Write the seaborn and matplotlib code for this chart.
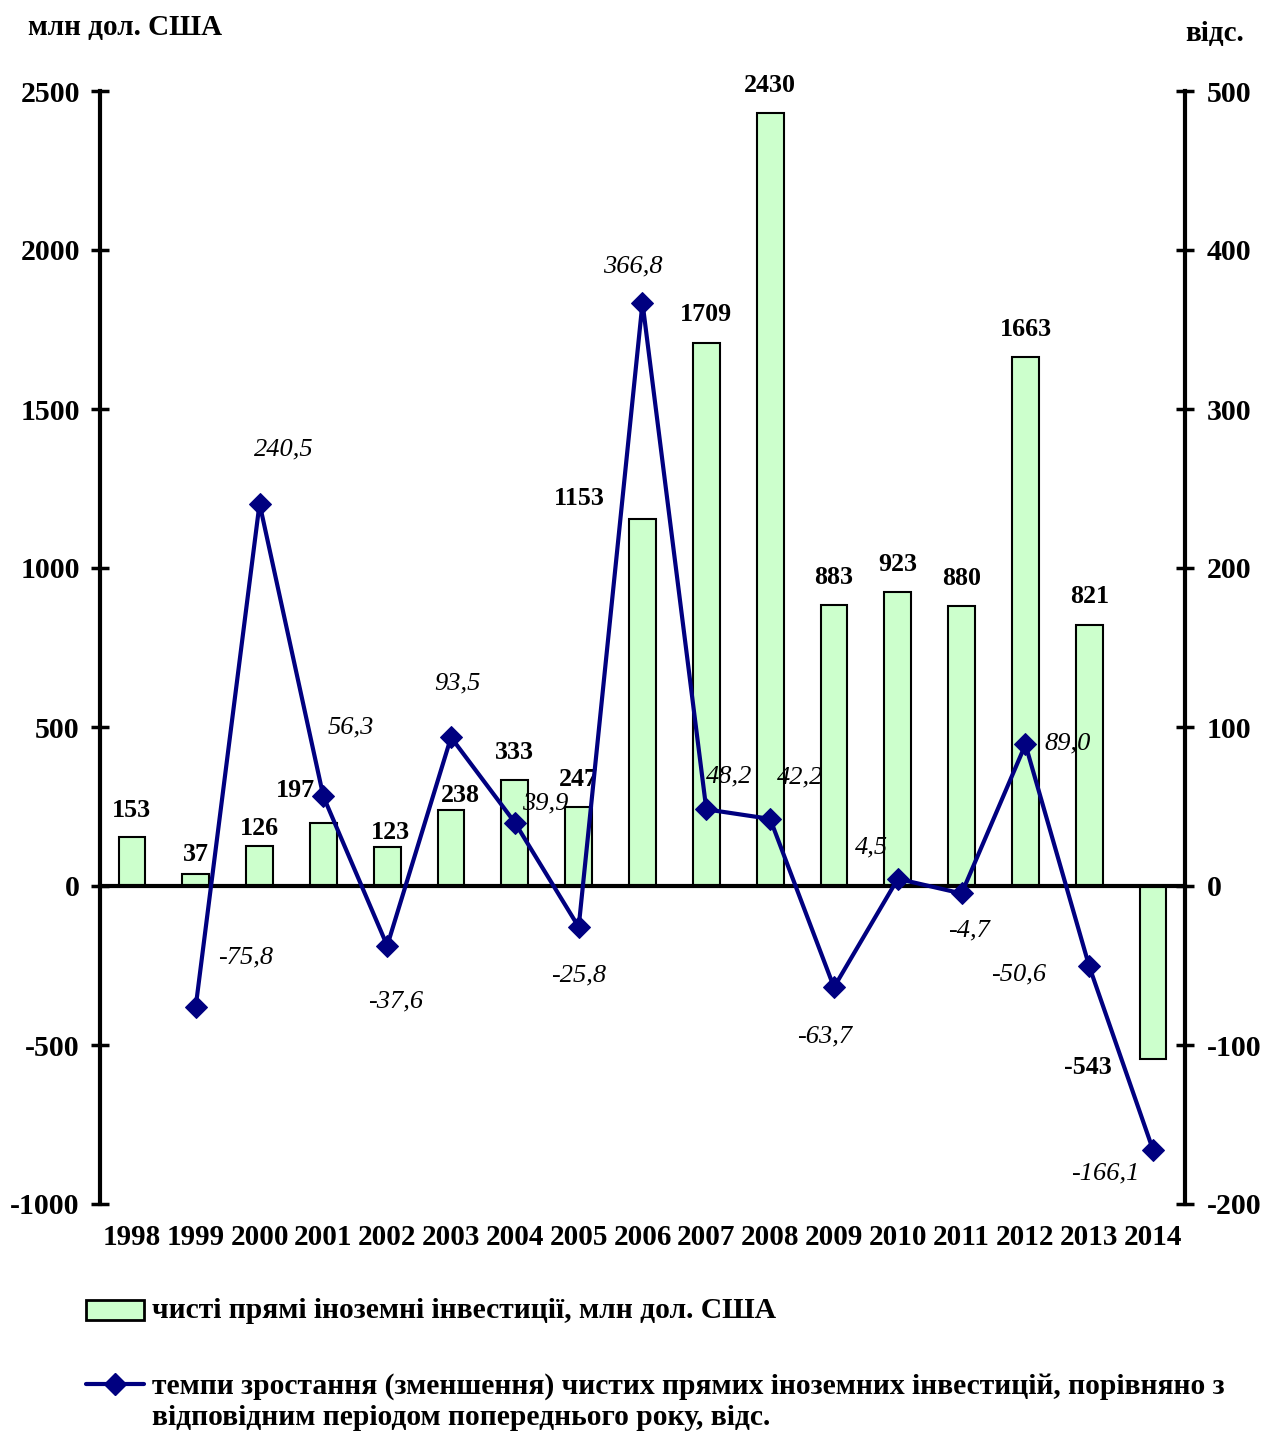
import numpy as np
import pandas as pd
import matplotlib
matplotlib.use("Agg")
import matplotlib.pyplot as plt
from matplotlib.patches import Rectangle
from matplotlib.lines import Line2D
import seaborn as sns

# ---------------- data ----------------
years = ["1998", "1999", "2000", "2001", "2002", "2003", "2004", "2005", "2006",
         "2007", "2008", "2009", "2010", "2011", "2012", "2013", "2014"]
fdi = [153, 37, 126, 197, 123, 238, 333, 247, 1153, 1709, 2430, 883, 923, 880, 1663, 821, -543]
growth_years = ["1999", "2000", "2001", "2002", "2003", "2004", "2005", "2006",
                "2007", "2008", "2009", "2010", "2011", "2012", "2013", "2014"]
growth = [-75.8, 240.5, 56.3, -37.6, 93.5, 39.9, -25.8, 366.8, 48.2, 42.2, -63.7, 4.5, -4.7, 89.0, -50.6, -166.1]
left_ticks = [-1000, -500, 0, 500, 1000, 1500, 2000, 2500]
right_ticks = [-200, -100, 0, 100, 200, 300, 400, 500]

bar_label = "чисті прямі іноземні інвестиції, млн дол. США"
line_label = "темпи зростання (зменшення) чистих прямих іноземних інвестицій, порівняно з\nвідповідним періодом попереднього року, відс."

# label offsets in pixels (styling only)
bar_off = {"1998": (0, 27), "1999": (0, 20), "2000": (0, 17), "2001": (-28, 33), "2002": (3, 14),
           "2003": (9, 15), "2006": (-63, 21), "2014": (-65, -9)}
line_off = [(50, 49), (24, 54), (27, 69), (8, -56), (6, 54), (30, 19), (0, -48), (-10, 36),
            (23, 33), (30, 41), (-9, -49), (-26, 31), (7, -37), (42, 1), (-71, -8), (-48, -23)]

BAR_FILL = "#CCFFCC"
NAVY = "#000080"

sns.set_style("white")
plt.rcParams["font.family"] = ["Liberation Serif", "DejaVu Serif"]
plt.rcParams["font.weight"] = "bold"
plt.rcParams["text.color"] = "black"
plt.rcParams["xtick.color"] = "black"
plt.rcParams["ytick.color"] = "black"
plt.rcParams["axes.labelcolor"] = "black"

W, H = 1263, 1432
fig = plt.figure(figsize=(W / 100, H / 100), dpi=100)
L, R, T, B = 100, 1185, 91, 1204
ax = fig.add_axes([L / W, 1 - B / H, (R - L) / W, (B - T) / H])

df = pd.DataFrame({"year": years, "fdi": fdi})
sns.barplot(data=df, x="year", y="fdi", order=years, color=BAR_FILL, saturation=1,
            width=0.42, edgecolor="black", linewidth=1.5, ax=ax, zorder=2)

ax2 = ax.twinx()
gdf = pd.DataFrame({"pos": [years.index(y) for y in growth_years], "growth": growth})
sns.lineplot(data=gdf, x="pos", y="growth", color=NAVY, linewidth=3, marker="D",
             markersize=11, markeredgecolor=NAVY, ax=ax2, zorder=5)

ax.set_xlim(-0.5, len(years) - 0.5)
ax.set_ylim(-1000, 2500)
ax2.set_ylim(-200, 500)
ax.set_yticks(left_ticks)
ax2.set_yticks(right_ticks)
ax.set_yticklabels([str(v) for v in left_ticks])
ax2.set_yticklabels([str(v) for v in right_ticks])
ax.set_xlabel("")
ax.set_ylabel("")
ax2.set_ylabel("")
ax2.set_xlabel("")

for s in ["top", "right"]:
    ax.spines[s].set_visible(False)
ax.spines["bottom"].set_position(("data", 0))
for s in ["top", "left", "bottom"]:
    ax2.spines[s].set_visible(False)
for sp in [ax.spines["left"], ax.spines["bottom"], ax2.spines["right"]]:
    sp.set_linewidth(3)
    sp.set_color("black")

ax.set_xticks(np.arange(-0.5, len(years), 1.0))
ax.tick_params(axis="x", direction="inout", length=13, width=2.5, labelbottom=False, color="black")
ax.tick_params(axis="y", direction="inout", length=13, width=2.5, labelsize=21.5, pad=8,
               color="black", labelcolor="black")
ax2.tick_params(axis="y", direction="inout", length=13, width=2.5, labelsize=21.5, pad=9,
                color="black", labelcolor="black")
ax2.tick_params(axis="x", bottom=False, labelbottom=False)
for lab in ax.get_yticklabels() + ax2.get_yticklabels():
    lab.set_fontweight("bold")

# year labels at bottom
for i, y in enumerate(years):
    ax.text(i, -0.0305, y, transform=ax.get_xaxis_transform(), ha="center", va="center",
            fontsize=21, fontweight="bold", color="black")

PX = 72 / 100
for i, (y, v) in enumerate(zip(years, fdi)):
    dx, dy = bar_off.get(y, (0, 28))
    ax.annotate(str(v), xy=(i, v), xytext=(dx * PX, dy * PX), textcoords="offset points",
                ha="center", va="center", fontsize=18.7, fontweight="bold", color="black", zorder=6)

for (y, g), (dx, dy) in zip(zip(growth_years, growth), line_off):
    txt = f"{g:.1f}".replace(".", ",")
    ax2.annotate(txt, xy=(years.index(y), g), xytext=(dx * PX, dy * PX), textcoords="offset points",
                 ha="center", va="center", fontsize=19, fontstyle="italic", fontweight="normal",
                 color="black", zorder=6)

fig.text(28 / W, 1 - 27 / H, "млн дол. США", ha="left", va="center", fontsize=21, fontweight="bold")
fig.text(1215 / W, 1 - 34 / H, "відс.", ha="center", va="center", fontsize=21, fontweight="bold")

# legend
fig.add_artist(Rectangle((86 / W, 1 - 1320 / H), 58 / W, 20 / H, transform=fig.transFigure,
                         facecolor=BAR_FILL, edgecolor="black", linewidth=2))
fig.text(152 / W, 1 - 1310 / H, bar_label, ha="left", va="center", fontsize=21.3, fontweight="bold")
fig.add_artist(Line2D([86 / W, 144 / W], [1 - 1384 / H, 1 - 1384 / H], transform=fig.transFigure,
                      color=NAVY, linewidth=3))
fig.add_artist(Line2D([115 / W], [1 - 1384 / H], transform=fig.transFigure,
                      color=NAVY, marker="D", markersize=11, linestyle="none"))
fig.text(152 / W, 1 - 1402 / H, line_label, ha="left", va="center", fontsize=21.3, fontweight="bold",
         linespacing=1.2)

fig.savefig("out.png", dpi=100)
